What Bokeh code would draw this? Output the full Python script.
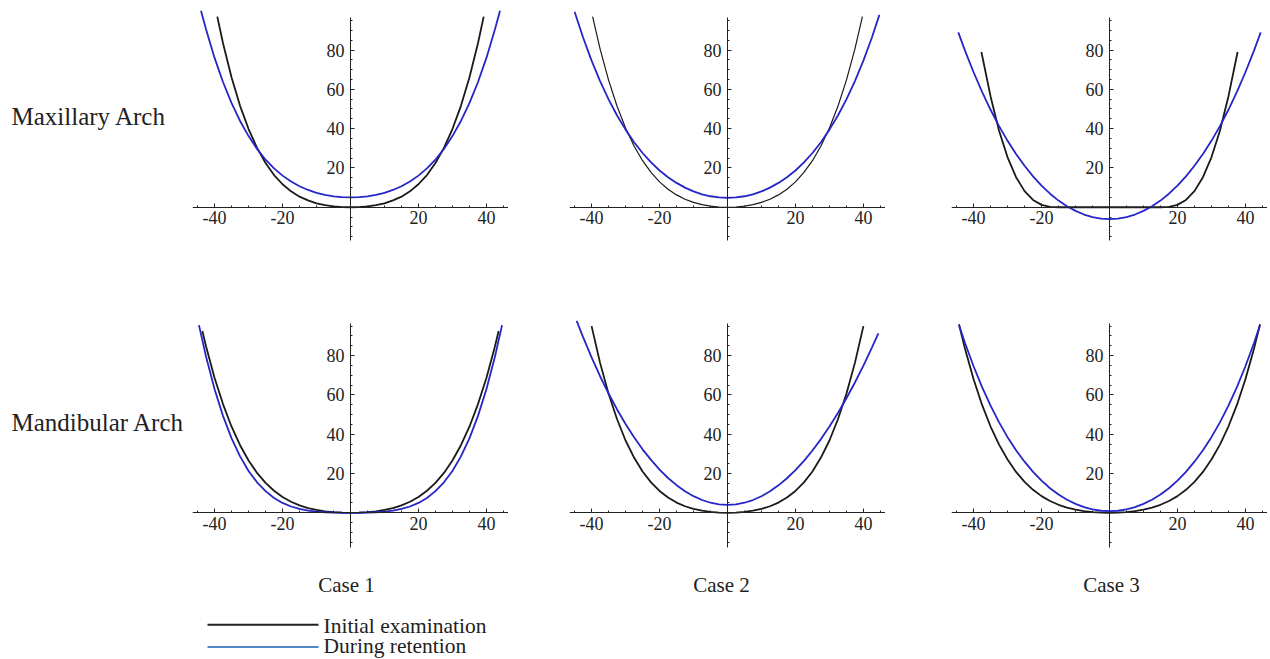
from bokeh.plotting import figure
from bokeh.layouts import column, row
from bokeh.models import Range1d, FixedTicker, Spacer
from bokeh.core.properties import value
from bokeh.embed import file_html
from bokeh.resources import INLINE

# ---------------- data ----------------
row_labels = ["Maxillary Arch", "Mandibular Arch"]
case_labels = ["Case 1", "Case 2", "Case 3"]
series_names = ["Initial examination", "During retention"]
x_ticks = [-40, -20, 20, 40]
y_ticks = [20, 40, 60, 80]

# sample positions (mm) at which the curves were read
X25 = [-42.5, -40, -37.5, -35, -32.5, -30, -27.5, -25, -22.5, -20, -17.5, -15, -12.5, -10,
       -7.5, -5, -2.5, 0, 2.5, 5, 7.5, 10, 12.5, 15, 17.5, 20, 22.5, 25, 27.5, 30, 32.5,
       35, 37.5, 40, 42.5]

# Maxillary, case 1
c1_max_init_x = [-39.2] + X25[2:-2] + [39.2]
c1_max_init_y = [97.0, 83.3, 66.0, 51.6, 39.8, 30.2, 22.5, 16.4, 11.7, 8.1, 5.4, 3.5, 2.0, 1.1, 0.45, 0.11,
                 0, 0.11, 0.45, 1.1, 2.0, 3.5, 5.4, 8.1, 11.7, 16.4, 22.5, 30.2, 39.8, 51.6, 66.0, 83.3, 97.0]
c1_max_ret_x = [-44.0] + X25 + [44.0]
c1_max_ret_y = [100.0, 90.4, 76.0, 63.6, 53.0, 43.9, 36.2, 29.7, 24.2, 19.8, 16.1, 13.1, 10.7, 8.8, 7.35, 6.3,
                5.56, 5.14, 5.0, 5.14, 5.56, 6.3, 7.35, 8.8, 10.7, 13.1, 16.1, 19.8, 24.2, 29.7, 36.2, 43.9,
                53.0, 63.6, 76.0, 90.4, 100.0]
# Maxillary, case 2
c2_max_init_x = [-39.7] + X25[2:-2] + [39.7]
c2_max_init_y = [97.0, 80.6, 64.7, 51.4, 40.3, 31.2, 23.7, 17.7, 12.9, 9.2, 6.3, 4.1, 2.5, 1.34, 0.58, 0.14,
                 0, 0.14, 0.58, 1.34, 2.5, 4.1, 6.3, 9.2, 12.9, 17.7, 23.7, 31.2, 40.3, 51.4, 64.7, 80.6, 97.0]
c2_max_ret_x = [-45.0] + X25 + [44.7]
c2_max_ret_y = [99.5, 86.4, 74.6, 64.2, 54.9, 46.7, 39.5, 33.1, 27.6, 22.8, 18.7, 15.3, 12.4, 10.0, 8.06, 6.6,
                5.6, 5.0, 4.8, 5.0, 5.6, 6.6, 8.06, 10.0, 12.4, 15.3, 18.7, 22.8, 27.6, 33.1, 39.5, 46.7,
                54.9, 64.2, 74.6, 86.4, 97.9]
# Maxillary, case 3
c3_max_init_x = [-37.7, -35, -32.5, -30, -27.5, -25, -22.5, -20, -17.5, -15,
                 15, 17.5, 20, 22.5, 25, 27.5, 30, 32.5, 35, 37.7]
c3_max_init_y = [79, 56.4, 38.9, 25.4, 15.3, 8.2, 3.7, 1.2, 0.18, 0,
                 0, 0.18, 1.2, 3.7, 8.2, 15.3, 25.4, 38.9, 56.4, 79]
c3_max_ret_x = [-44.5] + X25 + [44.5]
c3_max_ret_y = [89, 79.6, 68.7, 58.7, 49.6, 41.3, 33.8, 27.1, 21.1, 15.7, 11.0, 6.9, 3.4, 0.5, -1.85, -3.7,
                -4.97, -5.74, -6, -5.74, -4.97, -3.7, -1.85, 0.5, 3.4, 6.9, 11.0, 15.7, 21.1, 27.1, 33.8,
                41.3, 49.6, 58.7, 68.7, 79.6, 89]
# Mandibular, case 1
c1_man_init_x = [-43.6] + X25 + [43.6]
c1_man_init_y = [92.5, 84.6, 68.6, 55.2, 43.8, 34.4, 26.6, 20.3, 15.2, 11.2, 8.04, 5.6, 3.8, 2.4, 1.44, 0.76,
                 0.32, 0.08, 0, 0.08, 0.32, 0.76, 1.44, 2.4, 3.8, 5.6, 8.04, 11.2, 15.2, 20.3, 26.6, 34.4,
                 43.8, 55.2, 68.6, 84.6, 92.5]
c1_man_ret_x = [-44.6] + X25 + [44.6]
c1_man_ret_y = [95.5, 79.4, 62.9, 49.2, 37.9, 28.7, 21.3, 15.5, 11.0, 7.55, 5.02, 3.2, 1.94, 1.11, 0.58, 0.27,
                0.1, 0.02, 0, 0.02, 0.1, 0.27, 0.58, 1.11, 1.94, 3.2, 5.02, 7.55, 11.0, 15.5, 21.3, 28.7,
                37.9, 49.2, 62.9, 79.4, 95.5]
# Mandibular, case 2
c2_man_init_x = X25[1:-1]
c2_man_init_y = [95.0, 76.3, 60.6, 47.6, 36.8, 28.1, 21.0, 15.5, 11.1, 7.74, 5.2, 3.33, 1.98, 1.05, 0.45, 0.11,
                 0, 0.11, 0.45, 1.05, 1.98, 3.33, 5.2, 7.74, 11.1, 15.5, 21.0, 28.1, 36.8, 47.6, 60.6, 76.3, 95.0]
c2_man_ret_x = [-44.4] + X25 + [44.4]
c2_man_ret_y = [97.7, 89.4, 79.1, 69.5, 60.7, 52.6, 45.2, 38.4, 32.3, 26.9, 22.0, 17.7, 14.05, 10.96, 8.45, 6.5,
                5.11, 4.28, 4.0, 4.28, 5.11, 6.49, 8.43, 10.92, 13.97, 17.57, 21.72, 26.43, 31.69, 37.5,
                43.87, 50.79, 58.27, 66.3, 74.88, 84.02, 91.3]
# Mandibular, case 3
c3_man_init_x = [-44.3] + X25 + [44.3]
c3_man_init_y = [96.0, 83.4, 68.0, 54.9, 43.9, 34.7, 27.1, 20.8, 15.7, 11.7, 8.47, 5.97, 4.07, 2.63, 1.58, 0.85,
                 0.36, 0.09, 0, 0.09, 0.36, 0.85, 1.58, 2.63, 4.07, 5.97, 8.47, 11.7, 15.7, 20.8, 27.1, 34.7,
                 43.9, 54.9, 68.0, 83.4, 96.0]
c3_man_ret_x = [-44.3] + X25 + [44.3]
c3_man_ret_y = [95.5, 86.3, 74.6, 64.0, 54.5, 46.0, 38.5, 31.8, 26.0, 20.8, 16.4, 12.5, 9.3, 6.65, 4.51, 2.87,
                1.72, 1.03, 0.8, 1.03, 1.72, 2.87, 4.51, 6.65, 9.3, 12.5, 16.4, 20.8, 26.0, 31.8, 38.5, 46.0,
                54.5, 64.0, 74.6, 86.3, 95.5]

# ---------------- styling ----------------
FONT = "Liberation Serif"
TXT = "#222222"
BLACK = "#1a1a1a"
BLUE = "#2626c8"
LEG_BLUE = "#4f86c6"
PW = 316
TOP_H, BOT_H, STRIP_H = 250, 300, 108


def panel(h, yr, ybounds, init_x, init_y, ret_x, ret_y, black_w=1.8):
    p = figure(frame_width=PW, frame_height=h, x_range=Range1d(-46.5, 46.5),
               y_range=Range1d(*yr), output_backend="svg", toolbar_location=None,
               min_border=0)
    p.outline_line_color = None
    p.xgrid.grid_line_color = None
    p.ygrid.grid_line_color = None
    p.background_fill_color = "white"
    p.border_fill_color = "white"
    p.xaxis.fixed_location = 0
    p.yaxis.fixed_location = 0
    p.xaxis.bounds = (-46.5, 46.5)
    p.yaxis.bounds = ybounds
    p.xaxis.ticker = FixedTicker(ticks=x_ticks,
                                 minor_ticks=[-45, -35, -30, -25, -15, -10, -5, 5, 10, 15, 25, 30, 35, 45])
    p.yaxis.ticker = FixedTicker(ticks=y_ticks,
                                 minor_ticks=[-15, -10, -5, 5, 10, 15, 25, 30, 35, 45, 50, 55, 65, 70, 75, 85, 90, 95])
    p.xaxis.major_label_overrides = {t: str(t) for t in x_ticks}
    p.yaxis.major_label_overrides = {t: str(t) for t in y_ticks}
    for ax in (p.xaxis, p.yaxis):
        ax.axis_line_color = "#222222"
        ax.axis_line_width = 1
        ax.major_tick_line_color = "#222222"
        ax.minor_tick_line_color = "#222222"
        ax.major_tick_in = 4
        ax.major_tick_out = 0
        ax.minor_tick_in = 2
        ax.minor_tick_out = 0
        ax.major_label_text_font = FONT
        ax.major_label_text_font_size = "18px"
        ax.major_label_text_color = TXT
    p.xaxis.major_label_standoff = 4
    p.yaxis.major_label_standoff = 6
    p.line(init_x, init_y, line_color=BLACK, line_width=black_w)
    p.line(ret_x, ret_y, line_color=BLUE, line_width=1.8)
    return p


def label_fig(h, y0, y1, text, ty):
    f = figure(frame_width=192, frame_height=h, x_range=Range1d(0, 192),
               y_range=Range1d(y1, y0), output_backend="svg", toolbar_location=None,
               min_border=0, x_axis_type=None, y_axis_type=None)
    f.outline_line_color = None
    f.grid.visible = False
    f.text(x=[11], y=[ty], text=[text], text_font=value(FONT), text_font_size="25px",
           text_color=TXT, text_align="left", text_baseline="middle")
    return f


TOP_YR, TOP_B = (-22.0, 105.2), (-17.0, 96.5)
BOT_YR, BOT_B = (-19.2, 133.5), (-17.5, 96.2)

top = row(
    label_fig(TOP_H, 0, 250, row_labels[0], 115.5),
    panel(TOP_H, TOP_YR, TOP_B, c1_max_init_x, c1_max_init_y, c1_max_ret_x, c1_max_ret_y),
    Spacer(width=61, height=TOP_H),
    panel(TOP_H, TOP_YR, TOP_B, c2_max_init_x, c2_max_init_y, c2_max_ret_x, c2_max_ret_y, black_w=1.2),
    Spacer(width=66, height=TOP_H),
    panel(TOP_H, TOP_YR, TOP_B, c3_max_init_x, c3_max_init_y, c3_max_ret_x, c3_max_ret_y),
)
bottom = row(
    label_fig(BOT_H, 250, 550, row_labels[1], 422),
    panel(BOT_H, BOT_YR, BOT_B, c1_man_init_x, c1_man_init_y, c1_man_ret_x, c1_man_ret_y),
    Spacer(width=61, height=BOT_H),
    panel(BOT_H, BOT_YR, BOT_B, c2_man_init_x, c2_man_init_y, c2_man_ret_x, c2_man_ret_y),
    Spacer(width=66, height=BOT_H),
    panel(BOT_H, BOT_YR, BOT_B, c3_man_init_x, c3_man_init_y, c3_man_ret_x, c3_man_ret_y),
)

# bottom strip: case titles and legend
t = figure(frame_width=1267, frame_height=STRIP_H, x_range=Range1d(0, 1267),
           y_range=Range1d(550 + STRIP_H, 550), output_backend="svg", toolbar_location=None,
           min_border=0, x_axis_type=None, y_axis_type=None)
t.outline_line_color = None
t.grid.visible = False
t.text(x=[346, 721, 1111], y=[584.5, 584.5, 584.5], text=case_labels, text_font=value(FONT),
       text_font_size="21px", text_color=TXT, text_align="center", text_baseline="middle")
t.segment(x0=[207], y0=[624.3], x1=[318], y1=[624.3], line_color="#222222", line_width=2)
t.segment(x0=[207], y0=[646.5], x1=[318], y1=[646.5], line_color=LEG_BLUE, line_width=2)
t.text(x=[323, 323], y=[625, 645.5], text=series_names, text_font=value(FONT),
       text_font_size="21.5px", text_color=TXT, text_align="left", text_baseline="middle")

layout = column(top, bottom, t)
open("out.html", "w").write(file_html(layout, INLINE))
